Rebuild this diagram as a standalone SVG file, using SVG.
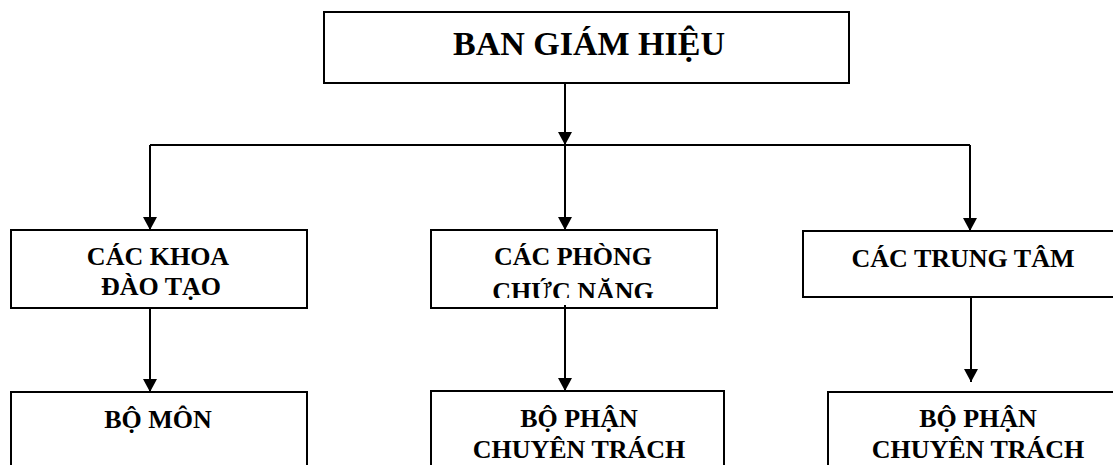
<svg xmlns="http://www.w3.org/2000/svg" width="1113" height="465" viewBox="0 0 1113 465">
  <style>
    .box { fill: #ffffff; stroke: #000000; stroke-width: 2; }
    .t { font-family: "Liberation Serif", "Times New Roman", serif; font-weight: bold; fill: #000000; text-anchor: middle; font-size: 26px; }
    .big { font-size: 34px; }
    .ln { fill: none; stroke: #000000; stroke-width: 2; }
  </style>
  <defs>
    <marker id="arr" viewBox="0 0 14 15" refX="14" refY="7.5" markerWidth="15" markerHeight="14" markerUnits="userSpaceOnUse" orient="auto">
      <path d="M0,0 L14,7.5 L0,15 Z" fill="#000000"/>
    </marker>
    <clipPath id="clipPhong">
      <rect x="431" y="230" width="286" height="68"/>
    </clipPath>
  </defs>
  <rect width="1113" height="465" fill="#ffffff"/>

  <g id="connectors">
    <line class="ln" x1="565" y1="83" x2="565" y2="145" marker-end="url(#arr)"/>
    <polyline class="ln" points="150,145 970,145"/>
    <line class="ln" x1="150" y1="145" x2="150" y2="230" marker-end="url(#arr)"/>
    <line class="ln" x1="565" y1="145" x2="565" y2="230" marker-end="url(#arr)"/>
    <line class="ln" x1="970" y1="145" x2="970" y2="231" marker-end="url(#arr)"/>
  </g>

  <g id="ban-giam-hieu">
    <rect class="box" x="324" y="12" width="525" height="71"/>
    <text class="t big" x="589" y="55">BAN GIÁM HIỆU</text>
  </g>

  <g id="cac-khoa">
    <rect class="box" x="11" y="230" width="296" height="78"/>
    <text class="t" x="158" y="265">CÁC KHOA</text>
    <text class="t" x="161" y="295">ĐÀO TẠO</text>
  </g>

  <g id="cac-phong">
    <rect class="box" x="431" y="230" width="286" height="78"/>
    <g clip-path="url(#clipPhong)">
      <text class="t" x="573" y="265">CÁC PHÒNG</text>
      <text class="t" x="573" y="300">CHỨC NĂNG</text>
    </g>
  </g>

  <g id="cac-trung-tam">
    <rect class="box" x="803" y="231" width="320" height="66"/>
    <text class="t" x="963" y="267">CÁC TRUNG TÂM</text>
  </g>

  <g id="connectors-lower">
    <line class="ln" x1="150" y1="308" x2="150" y2="392" marker-end="url(#arr)"/>
    <line class="ln" x1="565" y1="305" x2="565" y2="391" marker-end="url(#arr)"/>
    <line class="ln" x1="971" y1="297" x2="971" y2="382" marker-end="url(#arr)"/>
  </g>

  <g id="bo-mon">
    <rect class="box" x="11" y="392" width="296" height="90"/>
    <text class="t" x="158" y="428">BỘ MÔN</text>
  </g>

  <g id="bo-phan-1">
    <rect class="box" x="431" y="391" width="293" height="90"/>
    <text class="t" x="579" y="427">BỘ PHẬN</text>
    <text class="t" x="579" y="458">CHUYÊN TRÁCH</text>
  </g>

  <g id="bo-phan-2">
    <rect class="box" x="828" y="392" width="300" height="90"/>
    <text class="t" x="978" y="427">BỘ PHẬN</text>
    <text class="t" x="978" y="458">CHUYÊN TRÁCH</text>
  </g>
</svg>
